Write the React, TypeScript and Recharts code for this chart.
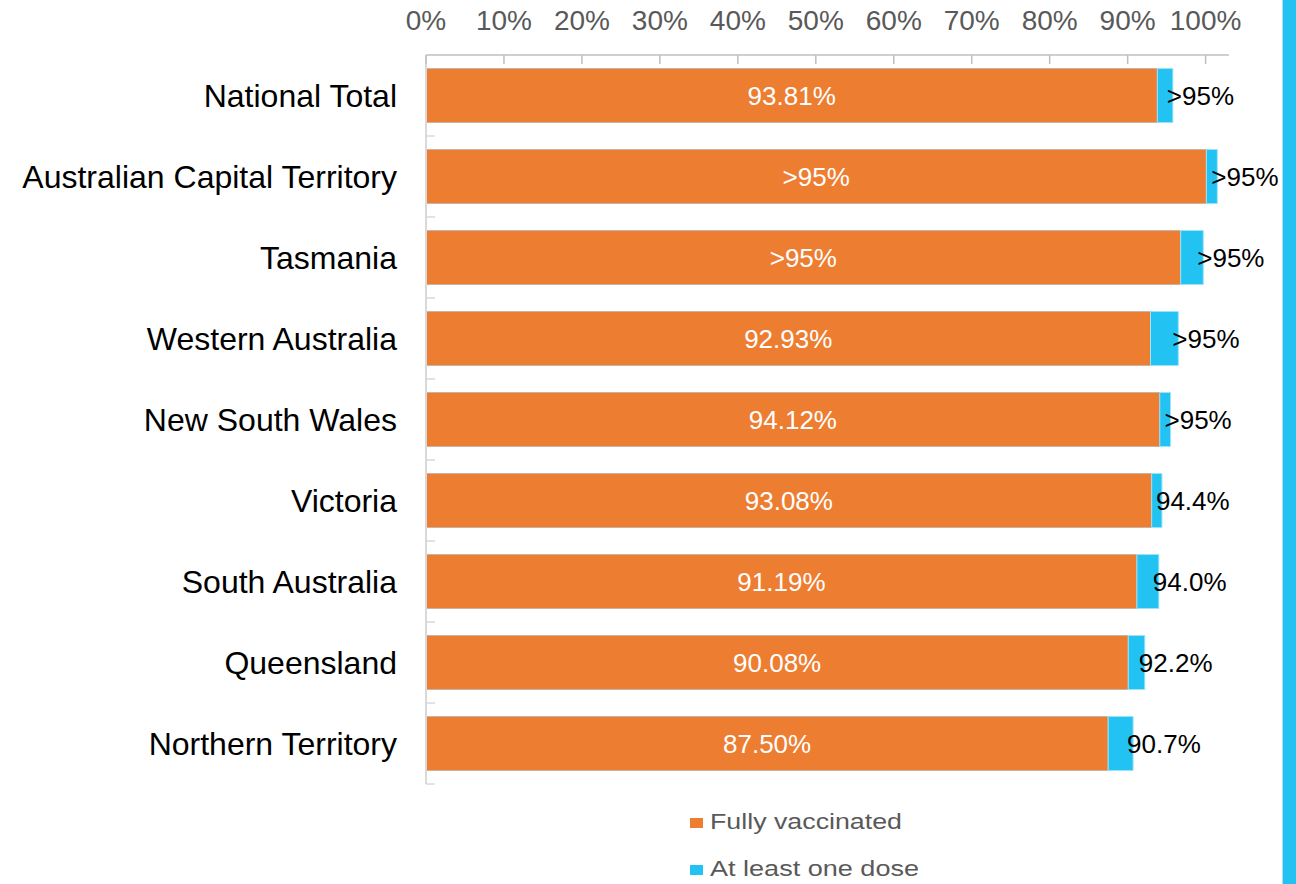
import { Bar, BarChart, LabelList, XAxis, YAxis } from "recharts";

const categories = [
  "National Total",
  "Australian Capital Territory",
  "Tasmania",
  "Western Australia",
  "New South Wales",
  "Victoria",
  "South Australia",
  "Queensland",
  "Northern Territory",
];
const fullyVaccinated = [93.81, 100.1, 96.8, 92.93, 94.12, 93.08, 91.19, 90.08, 87.5];
const atLeastOneDose = [95.8, 101.5, 99.7, 96.5, 95.5, 94.4, 94.0, 92.2, 90.7];
const fullyLabels = ["93.81%", ">95%", ">95%", "92.93%", "94.12%", "93.08%", "91.19%", "90.08%", "87.50%"];
const doseLabels = [">95%", ">95%", ">95%", ">95%", ">95%", "94.4%", "94.0%", "92.2%", "90.7%"];
const xTicks = [0, 10, 20, 30, 40, 50, 60, 70, 80, 90, 100];
const seriesNames = ["Fully vaccinated", "At least one dose"];

const ORANGE = "#ED7D31";
const BLUE = "#22C3F2";
const FONT = "Arial, 'Liberation Sans', sans-serif";

const W = 1296;
const H = 884;
const MARGIN = { top: 0, right: 67, bottom: 100, left: 0 };
const X_AXIS_H = 55;
const Y_AXIS_W = 426;
const PLOT_H = H - MARGIN.top - MARGIN.bottom - X_AXIS_H;
const HALF_BAND = PLOT_H / categories.length / 2;

const rows = categories.map((name, i) => ({
  name,
  full: fullyVaccinated[i],
  extra: +(atLeastOneDose[i] - fullyVaccinated[i]).toFixed(2),
  fullLabel: fullyLabels[i],
  doseLabel: doseLabels[i],
}));

function XTick({ x = 0, y = 0, payload }: any) {
  return (
    <g>
      <line x1={x} x2={x} y1={y + 25} y2={y + 34} stroke="#BFBFBF" strokeWidth={1.5} />
      <text x={x} y={y} textAnchor="middle" fill="#595959" fontSize={28} fontFamily={FONT}>
        {payload.value}%
      </text>
    </g>
  );
}

function YTick({ x = 0, y = 0, payload }: any) {
  const ax = x + 29;
  return (
    <g>
      <line x1={ax} x2={ax + 9} y1={y + HALF_BAND} y2={y + HALF_BAND} stroke="#D9D9D9" strokeWidth={1.5} />
      <text x={x} y={y} dy="0.36em" textAnchor="end" fill="#000" fontSize={32} fontFamily={FONT}>
        {payload.value}
      </text>
    </g>
  );
}

// label of the blue segment: starts just inside its right end
function DoseLabel({ x = 0, y = 0, width = 0, height = 0, value }: any) {
  return (
    <text x={x + width - 6} y={y + height / 2} dy="0.36em" textAnchor="start" fill="#000" fontSize={26} fontFamily={FONT}>
      {value}
    </text>
  );
}

export default function App() {
  return (
    <div style={{ position: "absolute", left: 0, top: 0, width: W, height: H, background: "#fff", overflow: "hidden" }}>
      <BarChart width={W} height={H} data={rows} layout="vertical" margin={MARGIN} barCategoryGap="16.7%">
        <XAxis
          type="number"
          orientation="top"
          domain={[0, 103]}
          ticks={xTicks}
          height={X_AXIS_H}
          tickSize={0}
          tickMargin={25}
          tickLine={false}
          axisLine={{ stroke: "#BFBFBF", strokeWidth: 1.5 }}
          tick={<XTick />}
          interval={0}
        />
        <YAxis
          type="category"
          dataKey="name"
          width={Y_AXIS_W}
          tickSize={0}
          tickMargin={29}
          tickLine={false}
          axisLine={{ stroke: "#D9D9D9", strokeWidth: 2 }}
          tick={<YTick />}
          interval={0}
        />
        <Bar dataKey="full" stackId="a" fill={ORANGE} stroke="#C8B4A6" strokeWidth={1} isAnimationActive={false}>
          <LabelList dataKey="fullLabel" position="center" fill="#fff" fontSize={26} fontFamily={FONT} />
        </Bar>
        <Bar dataKey="extra" stackId="a" fill={BLUE} stroke="#9FE2F8" strokeWidth={1} isAnimationActive={false}>
          <LabelList dataKey="doseLabel" content={<DoseLabel />} />
        </Bar>
      </BarChart>
      <svg width={300} height={90} style={{ position: "absolute", left: 680, top: 794 }}>
        {seriesNames.map((s, i) => (
          <g key={s}>
            <rect x={10} y={24 + i * 47} width={13} height={10} fill={i === 0 ? ORANGE : BLUE} />
            <text
              x={30}
              y={35 + i * 47}
              fontSize={22}
              fill="#595959"
              fontFamily={FONT}
              textLength={i === 0 ? 192 : 209}
              lengthAdjust="spacingAndGlyphs"
            >
              {s}
            </text>
          </g>
        ))}
      </svg>
      <div style={{ position: "absolute", left: 1282, top: 0, width: 14, height: H, background: BLUE, borderLeft: "1px solid #9FE2F8", boxSizing: "border-box" }} />
    </div>
  );
}
